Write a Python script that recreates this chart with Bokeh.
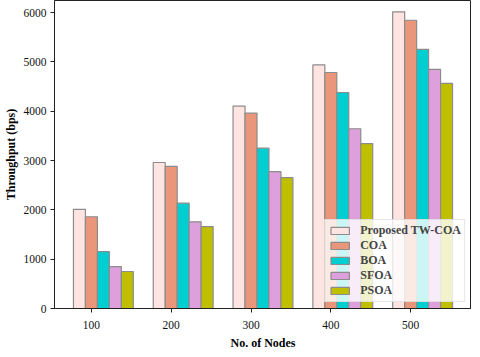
from bokeh.plotting import figure
from bokeh.models import ColumnDataSource, FixedTicker, Legend, LegendItem
from bokeh.transform import dodge
from bokeh.embed import file_html
from bokeh.resources import INLINE

nodes = ["100", "200", "300", "400", "500"]
series = ["Proposed TW-COA", "COA", "BOA", "SFOA", "PSOA"]
proposed = [2010, 2960, 4105, 4940, 6015]
coa = [1860, 2880, 3960, 4785, 5845]
boa = [1155, 2135, 3250, 4380, 5255]
sfoa = [850, 1757, 2775, 3645, 4850]
psoa = [750, 1662, 2655, 3345, 4565]
colors = ["#FFE4E1", "#E9967A", "#00CED1", "#DDA0DD", "#BFBF00"]

src = ColumnDataSource(dict(x=list(range(len(nodes))), s0=proposed, s1=coa, s2=boa, s3=sfoa, s4=psoa))

FONT = "Liberation Serif"
p = figure(frame_width=417, frame_height=308, output_backend="svg", toolbar_location=None,
           x_range=(-0.4625, 4.7625), y_range=(0, 6245),
           min_border_left=47, min_border_right=0, min_border_top=0, min_border_bottom=35)

bw = 0.15
items = []
for i, (name, col) in enumerate(zip(series, colors)):
    r = p.vbar(x=dodge("x", (i - 1) * bw, range=p.x_range), top="s%d" % i, width=bw, source=src,
               fill_color=col, line_color="#8c8c8c", line_width=1.2)
    items.append(LegendItem(label=name, renderers=[r]))

legend = Legend(items=items, location="bottom_right")
legend.label_text_font = FONT
legend.label_text_font_style = "bold"
legend.label_text_font_size = "12px"
legend.label_height = 12
legend.glyph_height = 9
legend.glyph_width = 23
legend.spacing = 0
legend.padding = 3
legend.margin = 6
legend.label_standoff = 9
legend.background_fill_alpha = 0.8
legend.border_line_color = "#cccccc"
legend.border_line_width = 1
p.add_layout(legend)

p.xaxis.ticker = FixedTicker(ticks=list(range(len(nodes))))
p.xaxis.major_label_overrides = {i: n for i, n in enumerate(nodes)}
p.yaxis.ticker = FixedTicker(ticks=[0, 1000, 2000, 3000, 4000, 5000, 6000])
p.xaxis.axis_label = "No. of Nodes"
p.yaxis.axis_label = "Throughput (bps)"
for ax in (p.xaxis, p.yaxis):
    ax.axis_label_text_font = FONT
    ax.axis_label_text_font_style = "bold"
    ax.axis_label_text_font_size = "12px"
    ax.axis_label_text_color = "#000000"
    ax.major_label_text_font = FONT
    ax.major_label_text_font_size = "11.5px"
    ax.major_label_text_color = "#111111"
    ax.minor_tick_line_color = None
    ax.major_tick_out = 4
    ax.major_tick_in = 0
    ax.axis_line_color = "#222222"
    ax.major_tick_line_color = "#222222"
p.xaxis.major_label_standoff = 8
p.yaxis.major_label_standoff = 4
p.xaxis.axis_label_standoff = 4
p.yaxis.axis_label_standoff = 3
p.xgrid.grid_line_color = None
p.ygrid.grid_line_color = None
p.outline_line_color = "#222222"
p.outline_line_width = 1

open("out.html", "w").write(file_html(p, INLINE))
